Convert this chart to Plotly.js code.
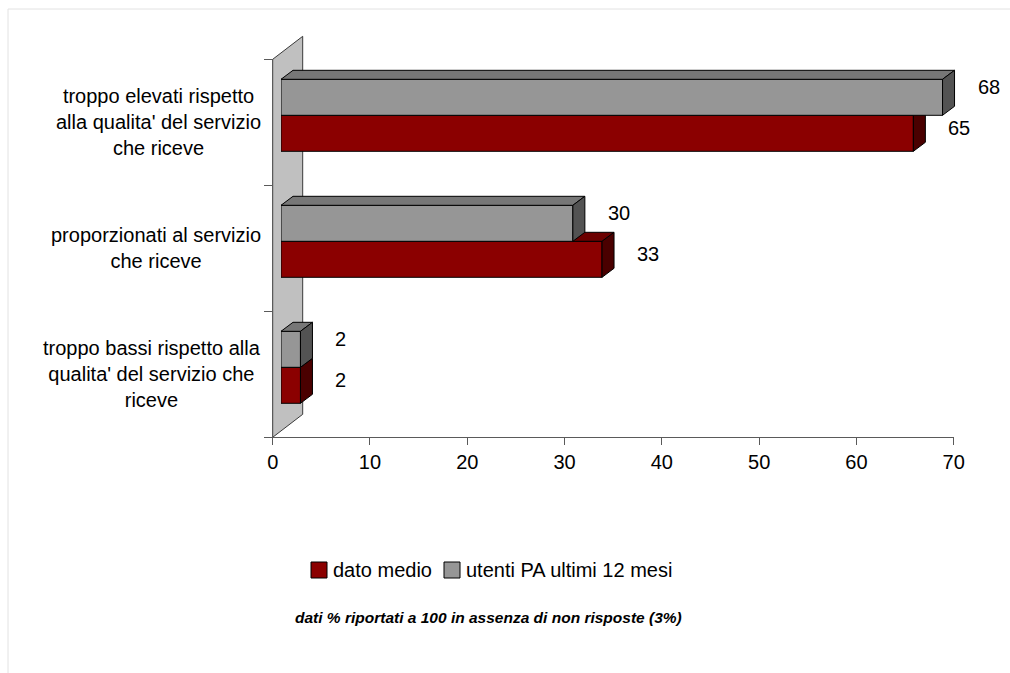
<!DOCTYPE html>
<html>
<head>
<meta charset="utf-8">
<script src="https://cdn.plot.ly/plotly-3.0.1.min.js"></script>
<style>
  html, body { margin: 0; padding: 0; background: #ffffff; }
  #chart { width: 1010px; height: 673px; }
</style>
</head>
<body>
<div id="chart"></div>
<script>
// Categories, bottom to top
const categories = [
  "troppo bassi rispetto alla<br>qualita' del servizio che<br>riceve",
  "proporzionati al servizio<br>che riceve",
  "troppo elevati rispetto<br>alla qualita' del servizio<br>che riceve"
];
const datoMedio = [2, 33, 65];
const utentiPA = [2, 30, 68];
const seriesNames = ["dato medio", "utenti PA ultimi 12 mesi"];
const xTickValues = [0, 10, 20, 30, 40, 50, 60, 70];
const footnote = "dati % riportati a 100 in assenza di non risposte (3%)";

// Page and plot geometry (pixels)
const W = 1010, H = 673;
const plot = { left: 272.7, right: 953.7, top: 59.3, bottom: 437.3 };
const xMax = 70;
const barShift = { x: 8.3, y: 7 };     // bars sit a little inside the 3D box
const depth = { x: 12, y: 9 };         // bar depth projection
const wallDepth = { x: 30, y: 23 };    // back wall depth projection
const barWidth = 1 / 3.5;              // gap width 150%
const FONT = "Liberation Sans, Arial, sans-serif";

const colors = {
  red: "#8b0000", redTop: "#6c0000", redSide: "#4a0000",
  grey: "#969696", greyTop: "#777777", greySide: "#535353",
  wall: "#c0c0c0", axis: "#5a5a5a", edge: "#000000"
};

const pos = categories.map((_, i) => i);
const nCat = categories.length;
const ux = xMax / (plot.right - plot.left);
const uy = nCat / (plot.bottom - plot.top);
const dx = depth.x * ux, dy = depth.y * uy;

const px = v => v / W;
const py = v => 1 - v / H;

// Top and side faces of each bar as closed polygons
function faces(values, offset) {
  const top = { x: [], y: [] }, side = { x: [], y: [] };
  values.forEach((v, i) => {
    const y0 = pos[i] + offset, y1 = y0 + barWidth;
    top.x.push(0, v, v + dx, dx, 0, null);
    top.y.push(y1, y1, y1 + dy, y1 + dy, y1, null);
    side.x.push(v, v + dx, v + dx, v, v, null);
    side.y.push(y1, y1 + dy, y0 + dy, y0, y1, null);
  });
  return { top, side };
}

function seriesTraces(name, values, offset, xa, ya, front, topC, sideC) {
  const f = faces(values, offset);
  const face = (pts, c) => ({
    type: "scatter", mode: "lines", x: pts.x, y: pts.y,
    fill: "toself", fillcolor: c,
    line: { color: colors.edge, width: 1 },
    xaxis: xa, yaxis: ya, showlegend: false, hoverinfo: "skip"
  });
  return [
    {
      type: "bar", orientation: "h", name: name,
      x: values, y: pos, width: barWidth, offset: offset,
      xaxis: xa, yaxis: ya, showlegend: false,
      marker: { color: front, line: { color: colors.edge, width: 1 } },
      hovertemplate: "%{x}<extra>" + name + "</extra>"
    },
    face(f.top, topC),
    face(f.side, sideC)
  ];
}

const data = [].concat(
  seriesTraces(seriesNames[0], datoMedio, -barWidth, "x2", "y2", colors.red, colors.redTop, colors.redSide),
  seriesTraces(seriesNames[1], utentiPA, 0, "x3", "y3", colors.grey, colors.greyTop, colors.greySide)
);

const xDom = [px(plot.left), px(plot.right)];
const yDom = [py(plot.bottom), py(plot.top)];
const xDomBars = [px(plot.left + barShift.x), px(plot.right + barShift.x)];
const yDomBars = [py(plot.bottom - barShift.y), py(plot.top - barShift.y)];
const yRange = [-0.5, nCat - 0.5];

const hiddenAxis = (dom, range, anchor) => ({
  domain: dom, range: range, anchor: anchor, visible: false, fixedrange: true
});

// Back wall of the 3D box (paper coordinates so it is not clipped by the plot area)
const wall = [
  [plot.left, plot.bottom],
  [plot.left + wallDepth.x, plot.bottom - wallDepth.y],
  [plot.left + wallDepth.x, plot.top - wallDepth.y],
  [plot.left, plot.top]
].map(p => `${px(p[0])},${py(p[1])}`);

const shapes = [
  {
    type: "path", xref: "paper", yref: "paper", layer: "below",
    path: `M${wall[0]} L${wall[1]} L${wall[2]} L${wall[3]} Z`,
    fillcolor: colors.wall, line: { color: "#3a3a3a", width: 1 }
  },
  // soft frame around the chart area
  {
    type: "rect", xref: "paper", yref: "paper",
    x0: px(8), x1: px(W + 5), y0: py(H + 5), y1: py(9),
    line: { color: "#e2e2e2", width: 1 }, fillcolor: "rgba(0,0,0,0)"
  }
];

// Legend keys
const legendItems = [
  { key: 311, text: 332, color: colors.red },
  { key: 444, text: 465, color: colors.grey }
];
const legendY = 570, keySize = 16;
legendItems.forEach(it => shapes.push({
  type: "rect", xref: "paper", yref: "paper",
  x0: px(it.key), x1: px(it.key + keySize),
  y0: py(legendY + keySize / 2), y1: py(legendY - keySize / 2),
  fillcolor: it.color, line: { color: "#000", width: 1 }
}));

const annotations = [];

// Category labels
categories.forEach((c, i) => annotations.push({
  xref: "paper", yref: "y", x: px(263), y: pos[i],
  xanchor: "right", yanchor: "middle", align: "center",
  text: c, showarrow: false, font: { family: FONT, size: 20, color: "#000" }
}));

// Value labels
function valueLabels(values, offset, xa, ya, yshift) {
  values.forEach((v, i) => annotations.push({
    xref: xa, yref: ya, x: v, y: pos[i] + offset + barWidth / 2,
    xanchor: "left", yanchor: "middle", xshift: 33, yshift: yshift,
    text: String(v), showarrow: false, font: { family: FONT, size: 20, color: "#000" }
  }));
}
valueLabels(datoMedio, -barWidth, "x2", "y2", 5.5);
valueLabels(utentiPA, 0, "x3", "y3", 10.5);

// Legend texts
legendItems.forEach((it, k) => annotations.push({
  xref: "paper", yref: "paper", x: px(it.text - 1), y: py(legendY),
  xanchor: "left", yanchor: "middle", text: seriesNames[k], showarrow: false,
  font: { family: FONT, size: 20, color: "#000" }
}));

// Footnote
annotations.push({
  xref: "paper", yref: "paper", x: px(488), y: py(617),
  xanchor: "center", yanchor: "middle", showarrow: false,
  text: "<b><i>" + footnote + "</i></b>",
  font: { family: FONT, size: 15.5, color: "#000" }
});

const layout = {
  width: W, height: H,
  margin: { l: 0, r: 0, t: 0, b: 0, pad: 0 },
  paper_bgcolor: "#ffffff", plot_bgcolor: "rgba(0,0,0,0)",
  showlegend: false, barmode: "overlay",
  font: { family: FONT, size: 20, color: "#000" },
  xaxis: {
    domain: xDom, range: [0, xMax], anchor: "y",
    tickmode: "array", tickvals: xTickValues,
    ticks: "outside", ticklen: 7, tickcolor: colors.axis, tickwidth: 1,
    showline: true, linecolor: colors.axis, linewidth: 1,
    showgrid: false, zeroline: false, fixedrange: true,
    tickfont: { family: FONT, size: 20, color: "#000" }
  },
  yaxis: {
    domain: yDom, range: yRange, anchor: "x",
    tickmode: "array", tickvals: [-0.5, 0.5, 1.5, 2.5],
    ticks: "outside", ticklen: 8, tickcolor: colors.axis, tickwidth: 1,
    showticklabels: false,
    showline: true, linecolor: colors.axis, linewidth: 1,
    showgrid: false, zeroline: false, fixedrange: true
  },
  xaxis2: hiddenAxis(xDomBars, [0, xMax], "y2"),
  yaxis2: hiddenAxis(yDomBars, yRange, "x2"),
  xaxis3: hiddenAxis(xDomBars, [0, xMax], "y3"),
  yaxis3: hiddenAxis(yDomBars, yRange, "x3"),
  shapes: shapes,
  annotations: annotations
};

Plotly.newPlot("chart", data, layout, { displayModeBar: false });
</script>
</body>
</html>
